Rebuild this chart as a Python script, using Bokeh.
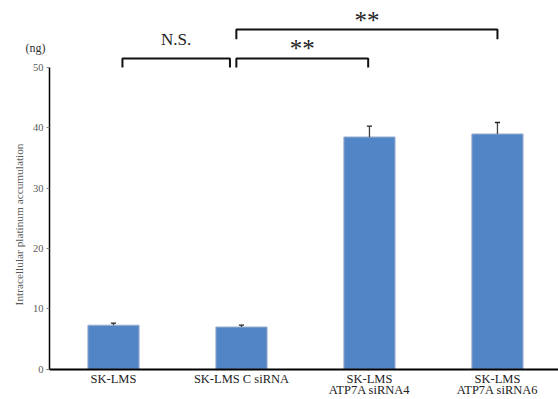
import math
from bokeh.plotting import figure
from bokeh.models import Range1d, FixedTicker
from bokeh.embed import file_html
from bokeh.resources import INLINE
from bokeh.core.properties import value

categories = ["SK-LMS", "SK-LMS C siRNA", "SK-LMS\nATP7A siRNA4", "SK-LMS\nATP7A siRNA6"]
means = [7.3, 7.0, 38.5, 39.0]
errors = [0.35, 0.3, 1.8, 1.9]
y_ticks = [0, 10, 20, 30, 40, 50]
y_label = "Intracellular platinum accumulation"
unit_label = "(ng)"

# significance brackets (data units)
bracket_x0 = [0.07, 0.96, 0.96]
bracket_x1 = [0.91, 1.99, 3.0]
bracket_y = [51.5, 51.5, 56.3]
bracket_leg = [1.5, 1.5, 1.6]
bracket_text = ["N.S.", "**", "**"]

FONT = "'Liberation Serif'"
SERIF = value("Liberation Serif")
xs = list(range(len(categories)))

p = figure(width=558, height=399, output_backend="svg", toolbar_location=None,
           x_range=Range1d(-0.5 - 49 / 128, 3.477), y_range=Range1d(-5.02, 59.8),
           frame_width=558, frame_height=391,
           min_border_left=0, min_border_right=0, min_border_top=8, min_border_bottom=0)
p.outline_line_color = None
p.grid.visible = False
p.background_fill_color = "white"

p.vbar(x=xs, top=means, width=0.4, bottom=0, fill_color="#5285C6",
       line_color="#9DB2CE", line_width=1)

# error bars (upper only)
p.segment(x0=xs, y0=means, x1=xs, y1=[m + e for m, e in zip(means, errors)],
          line_color="#404040", line_width=1.3)
p.segment(x0=[x - 0.02 for x in xs], y0=[m + e for m, e in zip(means, errors)],
          x1=[x + 0.02 for x in xs], y1=[m + e for m, e in zip(means, errors)],
          line_color="#202020", line_width=1.3)

# brackets
bxs, bys = [], []
for x0, x1, y, l in zip(bracket_x0, bracket_x1, bracket_y, bracket_leg):
    bxs.append([x0, x0, x1, x1])
    bys.append([y - l, y, y, y - l])
p.multi_line(xs=bxs, ys=bys, line_color="#111111", line_width=2)

text_y = [54.6, 53.2, 57.8]
size = ["17px", "25px", "25px"]
for x0, x1, ty, t, s in zip(bracket_x0, bracket_x1, text_y, bracket_text, size):
    p.text(x=[(x0 + x1) / 2], y=[ty], text=[t], text_align="center",
           text_baseline="middle", text_font=SERIF, text_font_size=s,
           text_color="#222222")

# axes
p.yaxis.fixed_location = -0.5
p.yaxis.bounds = (0, 50)
p.yaxis.ticker = FixedTicker(ticks=y_ticks)
p.yaxis.axis_line_color = "black"
p.yaxis.axis_line_width = 1.5
p.yaxis.major_tick_in = 0
p.yaxis.major_tick_out = 3
p.yaxis.major_tick_line_color = "#808080"
p.yaxis.minor_tick_line_color = None
p.yaxis.major_label_text_font = FONT
p.yaxis.major_label_text_font_size = "10.5px"
p.yaxis.major_label_text_color = "#595959"
p.yaxis.major_label_standoff = 3

p.xaxis.fixed_location = 0
p.xaxis.bounds = (-0.5, 3.477)
p.xaxis.ticker = FixedTicker(ticks=xs)
p.xaxis.major_label_overrides = {i: c for i, c in enumerate(categories)}
p.xaxis.axis_line_color = "black"
p.xaxis.axis_line_width = 2
p.xaxis.major_tick_line_color = None
p.xaxis.minor_tick_line_color = None
p.xaxis.major_label_text_font = FONT
p.xaxis.major_label_text_font_size = "12.5px"
p.xaxis.major_label_text_color = "#222222"
p.xaxis.major_label_text_line_height = 0.8
p.xaxis.major_label_standoff = -3

p.text(x=[-0.742], y=[24.0], text=[y_label], angle=math.pi / 2,
       text_align="center", text_baseline="middle", text_font=SERIF,
       text_font_size="11.3px", text_color="#595959")
p.text(x=[-0.609], y=[53.3], text=[unit_label], text_align="center",
       text_baseline="middle", text_font=SERIF, text_font_size="12px",
       text_color="#333333")

open("out.html", "w").write(file_html(p, INLINE))
